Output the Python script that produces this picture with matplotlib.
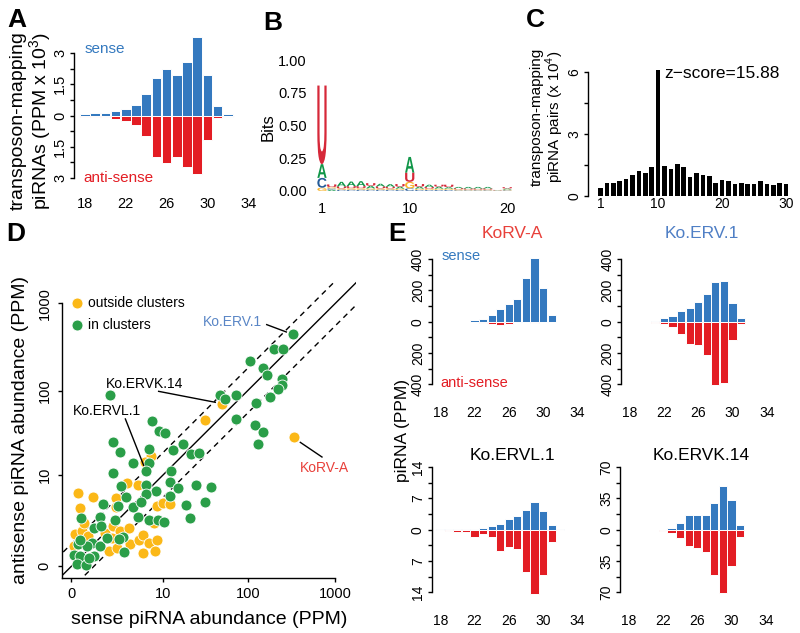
import numpy as np
import matplotlib
matplotlib.use("Agg")
import matplotlib.pyplot as plt
from matplotlib.textpath import TextPath
from matplotlib.patches import PathPatch
from matplotlib.font_manager import FontProperties
from matplotlib.transforms import Affine2D

plt.rcParams['font.family'] = ['Liberation Sans', 'DejaVu Sans']
plt.rcParams['mathtext.fontset'] = 'custom'
plt.rcParams['mathtext.rm'] = 'Liberation Sans'
plt.rcParams['axes.linewidth'] = 1.0

BLUE = '#3479bf'
RED = '#e31d24'
GREEN = '#2a9e48'
YELLOW = '#fbb817'
NUC_COL = {'A': '#109648', 'C': '#255c99', 'G': '#f7b32b', 'U': '#d62839'}

# A: transposon-mapping piRNA lengths (PPM x 10^3)
a_len = list(range(18, 33))
a_sense = [0.08, 0.13, 0.13, 0.22, 0.32, 0.51, 1.03, 1.81, 2.23, 1.93, 2.58, 3.77, 1.93, 0.47, 0.06]
a_anti = [0.05, 0.05, 0.08, 0.18, 0.27, 0.45, 0.98, 1.97, 2.26, 1.99, 2.46, 2.83, 1.16, 0.14, 0.0]

# B: sequence logo, bits at positions 1-20
logo_pos = list(range(1, 21))
logo_A = [.105, .01, .035, .035, .038, .02, .02, .02, .015, .12, .015, .018, .015, .012, .01, .012, .012, .012, .002, .008]
logo_C = [.075, .01, .01, .01, .01, .01, .01, .01, .008, .02, .008, .008, .008, .008, .005, .005, .005, .005, .002, .005]
logo_G = [.025, .01, .01, .012, .012, .01, .01, .01, .01, .05, .01, .01, .01, .01, .008, .006, .006, .006, .002, .006]
logo_U = [.60, .02, .015, .015, .015, .02, .015, .012, .02, .07, .02, .012, .015, .018, .008, .008, .008, .008, .002, .01]

# C: 5'-5' overlap of piRNA pairs (x 10^4)
c_overlap = list(range(1, 31))
c_pairs = [0.37, 0.61, 0.64, 0.72, 0.80, 1.0, 1.22, 1.11, 1.38, 6.1, 1.45, 1.32, 1.56, 1.41, 0.90,
           1.09, 1.0, 0.95, 0.64, 0.79, 0.72, 0.58, 0.61, 0.58, 0.58, 0.71, 0.58, 0.53, 0.63, 0.60]
c_zscore = 15.88

# D: sense vs antisense abundance (PPM)
out_sense = [335, 51, 32, 7, 5.8, 3.3, 4.7, 0.2, 0.75, 0.27, 2.25, 8.4, 10, 12.3, 7.6, 0.1, 0.32,
             1.4, 2.0, 3.7, 4.8, 5.6, 6.6, 8.4, 7.85, 5.6, 1.65, 2.3, 0.06, 0.53, 2.6, 3.5, 1.9,
             0.38, 2.2]
out_anti = [29, 70, 46, 17, 14.5, 7.9, 7.4, 5.9, 5.2, 3.6, 5.0, 3.9, 4.3, 4.2, 2.1, 1.35, 1.5,
            1.4, 1.85, 0.8, 1.0, 1.3, 0.85, 1.0, 0.5, 0.42, 0.48, 0.62, 0.7, 1.2, 1.5, 1.75, 1.1,
            2.1, 3.8]
in_sense = [330, 200, 255, 105, 150, 165, 245, 245, 220, 180, 125, 73, 73, 122, 150, 130, 48, 55,
            1.75, 7.3, 9, 10.7, 2, 17.5, 2.6, 6.6, 13.3, 22, 27.5, 4, 6.6, 6.1, 1.95, 12.6, 12.3,
            15.2, 25, 38, 32, 19, 21.5, 2.7, 6.1, 8.2, 6.1, 12.3, 1.3, 3.2, 2.4, 4, 5.2, 0.3, 1.1,
            2.1, 4.7, 6.6, 8.7, 10.2, 0.8, 1.15, 0.2, 0.7, 0.5, 1.1, 1.55, 2.9, 2.45, 3, 0.08,
            0.27, 0.16, 0.48, 0.8, 0.57, 0.27]
in_anti = [440, 300, 300, 220, 180, 150, 135, 115, 105, 85, 72, 88, 47, 40, 33, 24, 88, 79,
           88, 45, 34, 32, 25, 24, 19, 21, 20, 18, 18.5, 14, 14, 11.3, 10.6, 11.3, 8.2,
           6.8, 7.5, 7, 4.4, 4, 2.6, 7.2, 7.5, 6.2, 5.7, 5.3, 4.2, 5.1, 3.9, 3.75, 4.4, 2.6, 2.7,
           2.4, 2.65, 2.4, 2.4, 2.2, 1.75, 1.9, 0.8, 0.85, 0.72, 0.72, 1.1, 1.15, 1.05, 0.46, 0.36,
           0.3, 0.07, 0.04, 0.3, 0.24, 1.0]

# E: length profiles of single elements (PPM), lengths 18-32
e_len = list(range(18, 33))
korv_sense = [0, 0, 0, 0, 8, 19, 43, 82, 111, 147, 277, 410, 218, 42, 0]
korv_anti = [0, 0, 0, 0, 2, 6, 16, 22, 14, 5, 5, 9, 0, 0, 0]
erv1_sense = [0, 0, 0, 3, 21, 34, 66, 85, 124, 179, 252, 262, 117, 26, 0]
erv1_anti = [0, 0, 0, 6, 17, 32, 77, 143, 147, 215, 408, 390, 119, 17, 0]
ervl1_sense = [0.15, 0.15, 0.2, 0.2, 0.05, 0.3, 0.9, 1.26, 2.3, 3.1, 4.5, 6.2, 4.2, 1.04, 0.07]
ervl1_anti = [0.15, 0.2, 0.6, 0.6, 1.63, 0.9, 1.63, 4.7, 3.85, 4.3, 9.4, 14.4, 10.2, 2.7, 0]
ervk14_sense = [0, 0, 0, 0, 0, 2, 7.8, 17, 16, 16.3, 30.4, 49, 33, 5.2, 0]
ervk14_anti = [0, 0, 0, 0, 2, 4, 9.3, 18, 20.4, 25.2, 50.4, 71, 41, 7.8, 0]

W, H = 800, 633
fig = plt.figure(figsize=(8, 6.33), dpi=100)


def box(l, t, r, b):
    return [l / W, 1 - b / H, (r - l) / W, (b - t) / H]


def ftext(x, y, s, **kw):
    fig.text(x / W, 1 - y / H, s, **kw)


def r_style(ax, keep=('left',)):
    for k in ('top', 'right', 'bottom', 'left'):
        ax.spines[k].set_visible(k in keep)
    ax.tick_params(direction='out', length=3.2, width=1.0, labelsize=10)


def mirror(ax, lens, s, a, top, step, lab_step, lim):
    ax.bar(lens, s, 0.95, color=BLUE, edgecolor='white', linewidth=0.7)
    ax.bar(lens, [-v for v in a], 0.95, color=RED, edgecolor='white', linewidth=0.7)
    r_style(ax)
    ax.set_ylim(-lim, lim)
    ax.spines['left'].set_bounds(-top, top)
    ticks = np.arange(-top, top + step / 2, step)
    labs = []
    for t in ticks:
        if abs(round(t / lab_step) * lab_step - t) < 1e-9:
            labs.append('%g' % abs(t))
        else:
            labs.append('')
    ax.set_yticks(ticks)
    ax.set_yticklabels(labs, rotation=90, va='center')
    ax.set_xticks([18, 22, 26, 30, 34])
    ax.tick_params(axis='x', length=0)


# ---------------- A
axA = fig.add_axes(box(73.8, 34.3, 253.3, 192.6))
axA.plot([17.5, 32.5], [0, 0], color='#c9d6e6', lw=0.8, zorder=0)
mirror(axA, a_len, a_sense, a_anti, 3, 0.75, 1.5, 3.9)
axA.set_ylim(-3.7, 3.9)
axA.set_xlim(16.9, 34.5)
axA.tick_params(axis='x', pad=3, labelsize=10.5)
axA.tick_params(axis='y', pad=1.5, labelsize=10.5)
axA.text(18.0, 3.2, 'sense', color=BLUE, fontsize=11, va='center')
axA.text(17.8, -3.0, 'anti-sense', color=RED, fontsize=11, va='center')
ftext(18, 121, 'transposon-mapping', rotation=90, fontsize=14, ha='center', va='center')
ftext(41, 121, r'piRNAs (PPM x 10$^{3}$)', rotation=90, fontsize=14, ha='center', va='center')

# ---------------- B
axB = fig.add_axes(box(317.1, 60, 512.1, 191))
fp = FontProperties(family='Liberation Sans', weight='bold')
for i, p in enumerate(logo_pos):
    col = {'A': logo_A[i], 'C': logo_C[i], 'G': logo_G[i], 'U': logo_U[i]}
    y0 = 0.0
    for ch, h in sorted(col.items(), key=lambda kv: kv[1]):
        tp = TextPath((0, 0), ch, size=1, prop=fp)
        bb = tp.get_extents()
        w = 0.95
        tr = (Affine2D().translate(-bb.x0, -bb.y0)
              .scale(w / bb.width, h / bb.height).translate(p - w / 2, y0))
        axB.add_patch(PathPatch(tr.transform_path(tp), facecolor=NUC_COL[ch], lw=0))
        y0 += h
axB.set_xlim(0.5, 20.5)
axB.set_ylim(0, 1)
for k in axB.spines:
    axB.spines[k].set_visible(False)
axB.set_yticks([0, 0.25, 0.5, 0.75, 1.0])
axB.set_yticklabels(['0.00', '0.25', '0.50', '0.75', '1.00'])
axB.set_xticks([1, 10, 20])
axB.tick_params(length=0, labelsize=10.5)
axB.tick_params(axis='y', pad=7.5)
axB.tick_params(axis='x', pad=8)
ftext(268, 127, 'Bits', rotation=90, fontsize=12, ha='center', va='center')

# ---------------- C
axC = fig.add_axes(box(588, 63.4, 795.7, 196))
axC.bar(c_overlap, c_pairs, 0.72, color='black')
r_style(axC)
axC.set_xlim(-0.95, 31.5)
axC.set_ylim(0, 6.4)
axC.spines['left'].set_bounds(0, 6)
axC.set_yticks([0, 1.5, 3, 4.5, 6])
axC.set_yticklabels(['0', '', '3', '', '6'], rotation=90, va='center')
axC.set_xticks([1, 10, 20, 30])
axC.tick_params(axis='x', length=0, pad=1)
axC.tick_params(axis='y', pad=1.5)
axC.text(10.9, 5.9, 'z\u2212score=%.2f' % c_zscore, fontsize=12.5, va='center')
ftext(537, 117, 'transposon-mapping', rotation=90, fontsize=11, ha='center', va='center')
ftext(555, 117, r'piRNA pairs (x 10$^{4}$)', rotation=90, fontsize=11, ha='center', va='center')

# ---------------- D
axD = fig.add_axes(box(62, 281.4, 355.6, 578))
lg = np.log10
axD.scatter(lg(np.array(out_sense) + 1), lg(np.array(out_anti) + 1), s=62, color=YELLOW,
            edgecolor='white', linewidth=0.6, zorder=3)
axD.scatter(lg(np.array(in_sense) + 1), lg(np.array(in_anti) + 1), s=62, color=GREEN,
            edgecolor='white', linewidth=0.6, zorder=4)
t = np.array([-0.5, 3.6])
off = lg(1.8)
axD.plot(t, t, color='black', lw=1.0, zorder=2)
axD.plot(t, t + off, color='black', lw=1.0, ls=(0, (4, 3.3)), zorder=2)
axD.plot(t, t - off, color='black', lw=1.0, ls=(0, (4, 3.3)), zorder=2)
axD.set_xlim(-0.106, 3.23)
axD.set_ylim(-0.133, 3.25)
r_style(axD, keep=('left', 'bottom'))
axD.spines['left'].set_bounds(-0.133, 3)
axD.spines['bottom'].set_bounds(-0.106, 3)
dt = [0, lg(11), lg(101), lg(1001)]
axD.set_xticks(dt)
axD.set_xticklabels(['0', '10', '100', '1000'])
axD.set_yticks(dt)
axD.set_yticklabels(['0', '10', '100', '1000'], rotation=90, va='center')
axD.tick_params(labelsize=10.5)
axD.tick_params(axis='x', pad=3.4)
axD.tick_params(axis='y', pad=4.3)
axD.set_xlabel('sense piRNA abundance (PPM)', fontsize=14, labelpad=7)
axD.set_ylabel('antisense piRNA abundance (PPM)', fontsize=14, labelpad=6)
axD.scatter([0.051], [0.927], s=62, color=YELLOW, edgecolor='white', lw=0.6, transform=axD.transAxes, clip_on=False)
axD.scatter([0.051], [0.853], s=62, color=GREEN, edgecolor='white', lw=0.6, transform=axD.transAxes, clip_on=False)
axD.text(0.089, 0.927, 'outside clusters', transform=axD.transAxes, fontsize=10, va='center')
axD.text(0.089, 0.853, 'in clusters', transform=axD.transAxes, fontsize=10, va='center')
notes = [('Ko.ERV.1', (1.833, 2.783), (2.22, 2.757), (2.443, 2.673), '#5a86c6'),
         ('Ko.ERVK.14', (0.83, 2.084), (0.992, 1.996), (1.636, 1.871), 'black'),
         ('Ko.ERVL.1', (0.405, 1.768), (0.614, 1.681), (0.822, 1.152), 'black'),
         ('KoRV-A', (2.875, 1.122), (2.602, 1.414), (2.848, 1.247), '#e8403a')]
for lab, xy, p0, p1, colr in notes:
    axD.text(xy[0], xy[1], lab, color=colr, fontsize=10, ha='center', va='center')
    axD.plot([p0[0], p1[0]], [p0[1], p1[1]], color='black', lw=1.0, zorder=5)

# ---------------- E
e_panels = [
    ('KoRV-A', '#e8403a', korv_sense, korv_anti, 400, 100, 200, (431.7, 252.95, 581.7, 390.45), 234),
    ('Ko.ERV.1', '#4f7fc5', erv1_sense, erv1_anti, 400, 100, 200, (621, 252.95, 771, 390.45), 234),
    ('Ko.ERVL.1', 'black', ervl1_sense, ervl1_anti, 14, 3.5, 7, (431.7, 460.95, 581.7, 598.45), 456),
    ('Ko.ERVK.14', 'black', ervk14_sense, ervk14_anti, 70, 17.5, 35, (620, 460.95, 770, 598.45), 456),
]
for name, colr, s, a, top, step, lab_step, bx, ty in e_panels:
    ax = fig.add_axes(box(*bx))
    mirror(ax, e_len, s, a, top, step, lab_step, top * 1.1)
    ax.set_xlim(17, 34.5)
    ax.tick_params(axis='x', pad=11)
    ax.tick_params(axis='y', pad=1.7)
    ftext((bx[0] + bx[2]) / 2 + 6, ty, name, color=colr, fontsize=12.5, ha='center', va='center')
    if name == 'KoRV-A':
        ax.text(18.2, top * 1.05, 'sense', color=BLUE, fontsize=10.5, va='center')
        ax.text(18.0, -top * 0.98, 'anti-sense', color=RED, fontsize=10.5, va='center')
ftext(403, 430, 'piRNA (PPM)', rotation=90, fontsize=12.5, ha='center', va='center')

# panel letters
for lab, x, y in [('A', 17, 20), ('B', 273, 23), ('C', 535, 20), ('D', 16, 234), ('E', 397, 234)]:
    ftext(x, y, lab, fontsize=19, fontweight='bold', ha='center', va='center')

fig.savefig('out.png', dpi=100)
